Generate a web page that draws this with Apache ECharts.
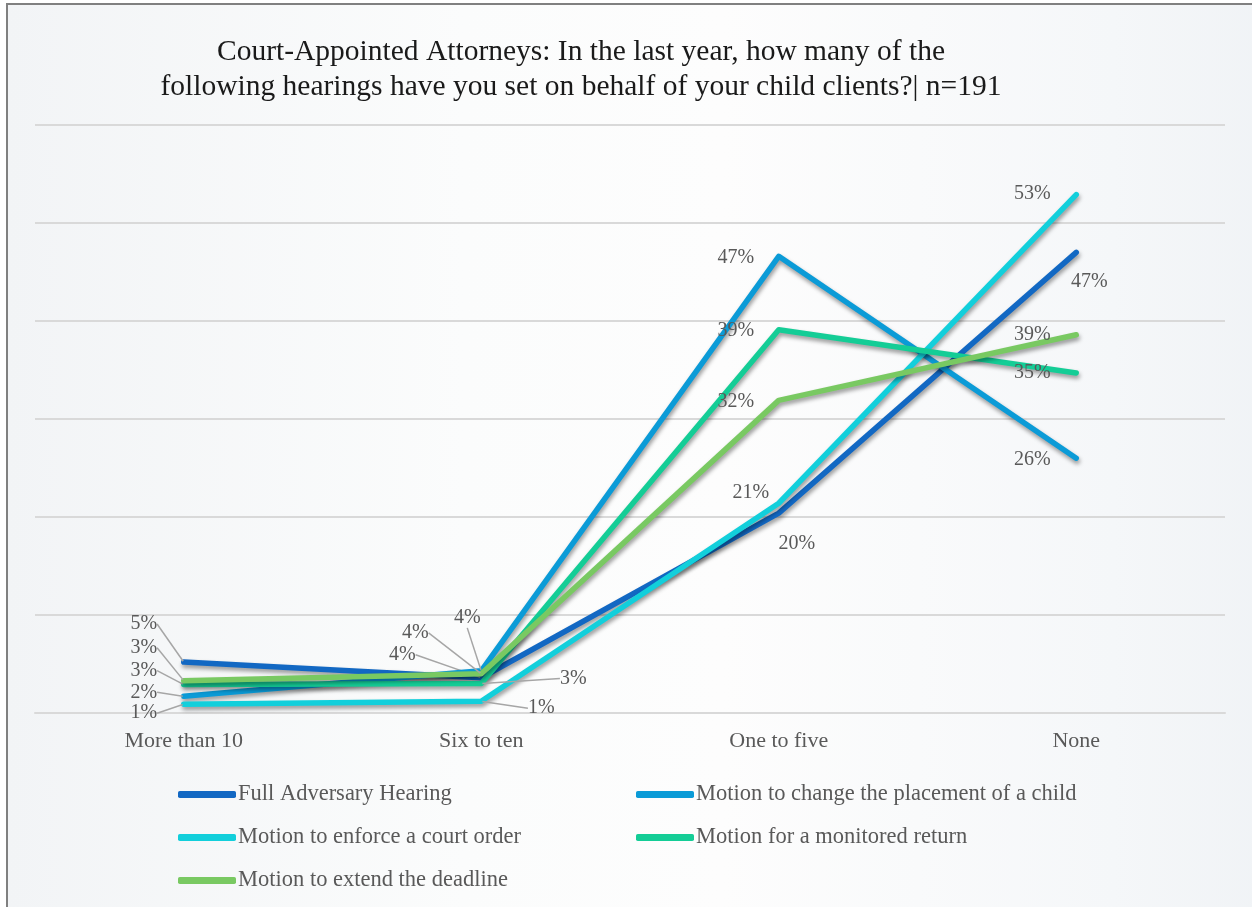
<!DOCTYPE html>
<html>
<head>
<meta charset="utf-8">
<script src="https://cdn.jsdelivr.net/npm/echarts@6/dist/echarts.min.js"></script>
<style>
  html, body { margin: 0; padding: 0; width: 1252px; height: 907px; overflow: hidden; background: #fff; }
  .frame {
    position: absolute; left: 6px; top: 3px; width: 1300px; height: 960px;
    border: 2px solid #808080;
    background: linear-gradient(to right, #f2f4f6 0%, #fbfcfc 35%, #fdfdfd 55%, #f5f7f9 85%, #eff2f5 100%);
  }
  #chart { position: absolute; left: 0; top: 0; width: 1252px; height: 907px; }
</style>
</head>
<body>
<div class="frame"></div>
<div id="chart"></div>
<script>
const categories = ['More than 10', 'Six to ten', 'One to five', 'None']

const seriesNames = [
  'Full Adversary Hearing',
  'Motion to change the placement of a child',
  'Motion to enforce a court order',
  'Motion for a monitored return',
  'Motion to extend the deadline',
]

// percent of respondents
const fullAdversary = [5.2, 3.6, 20.4, 47.0]
const changePlacement = [1.7, 4.3, 46.6, 26.0]
const enforceOrder = [0.9, 1.2, 21.4, 52.9]
const monitoredReturn = [2.9, 3.0, 39.1, 34.7]
const extendDeadline = [3.3, 4.0, 31.9, 38.6]

const seriesValues = [fullAdversary, changePlacement, enforceOrder, monitoredReturn, extendDeadline]
const colors = ['#1268c3', '#0b9bd7', '#12cfdb', '#14cd96', '#79c962']

// label offsets from each point (px), callouts on the two low categories
const labelOffsets = [
  [[-40, -38], [-79, -23], [18, 31], [13, 29]],
  [[-40, -4], [-14, -53], [-43, 1], [-44, 2]],
  [[-40, 9], [60, 7], [-28, -11], [-44, -1]],
  [[-40, -14], [92, -5], [-43, 1], [-44, 0]],
  [[-40, -33], [-66, -41], [-43, 1], [-44, 0]],
]

const FONT = '"Liberation Serif", "DejaVu Serif", serif'

const chart = echarts.init(document.getElementById('chart'), null, { renderer: 'canvas' })

const series = seriesNames.map((name, si) => ({
  name,
  type: 'line',
  symbol: 'circle',
  symbolSize: 2,
  showSymbol: true,
  z: 2 + si,
  data: seriesValues[si].map((v, di) => ({
    value: v,
    labelLine: { show: di < 2 },
  })),
  lineStyle: {
    width: 5.5,
    color: colors[si],
    cap: 'round',
    join: 'round',
    shadowColor: 'rgba(0,0,0,0.4)',
    shadowBlur: 4,
    shadowOffsetX: 1,
    shadowOffsetY: 3,
  },
  itemStyle: { color: colors[si] },
  label: {
    show: true,
    fontFamily: FONT,
    fontSize: 20,
    color: '#595959',
    formatter: (p) => Math.round(p.value) + '%',
  },
  labelLine: {
    lineStyle: { color: '#a6a6a6', width: 1.5 },
  },
  labelLayout: (params) => {
    const off = labelOffsets[si][params.dataIndex]
    const cx = params.rect.x + params.rect.width / 2
    const cy = params.rect.y + params.rect.height / 2
    return { x: cx + off[0], y: cy + off[1], align: 'center', verticalAlign: 'middle' }
  },
  emphasis: { disabled: true },
}))

const legendText = { fontFamily: FONT, fontSize: 22.5, color: '#595959', lineHeight: 20, padding: [0, 0, 0, -3] }

chart.setOption({
  animation: false,
  color: colors,
  title: {
    text: 'Court-Appointed Attorneys: In the last year, how many of the\nfollowing hearings have you set on behalf of your child clients?| n=191',
    left: 576,
    top: 30,
    textAlign: 'center',
    textStyle: { fontFamily: FONT, fontSize: 29.5, fontWeight: 'normal', color: '#1a1a1a', lineHeight: 35 },
  },
  legend: [
    {
      orient: 'vertical',
      left: 173,
      top: 778,
      itemWidth: 58,
      itemHeight: 7,
      itemGap: 20,
      icon: 'roundRect',
      data: [seriesNames[0], seriesNames[2], seriesNames[4]],
      textStyle: legendText,
    },
    {
      orient: 'vertical',
      left: 631,
      top: 778,
      itemWidth: 58,
      itemHeight: 7,
      itemGap: 20,
      icon: 'roundRect',
      data: [seriesNames[1], seriesNames[3]],
      textStyle: legendText,
    },
  ],
  grid: { left: 35, top: 125, width: 1190, height: 588, containLabel: false },
  xAxis: {
    type: 'category',
    data: categories,
    boundaryGap: true,
    axisLine: { show: true, lineStyle: { color: '#d9d9d9', width: 2 } },
    axisTick: { show: false },
    axisLabel: { fontFamily: FONT, fontSize: 22, color: '#595959', margin: 17 },
  },
  yAxis: {
    type: 'value',
    min: 0,
    max: 60,
    interval: 10,
    axisLine: { show: false },
    axisTick: { show: false },
    axisLabel: { show: false },
    splitLine: { lineStyle: { color: '#d9d9d9', width: 2 } },
  },
  series,
})
</script>
</body>
</html>
